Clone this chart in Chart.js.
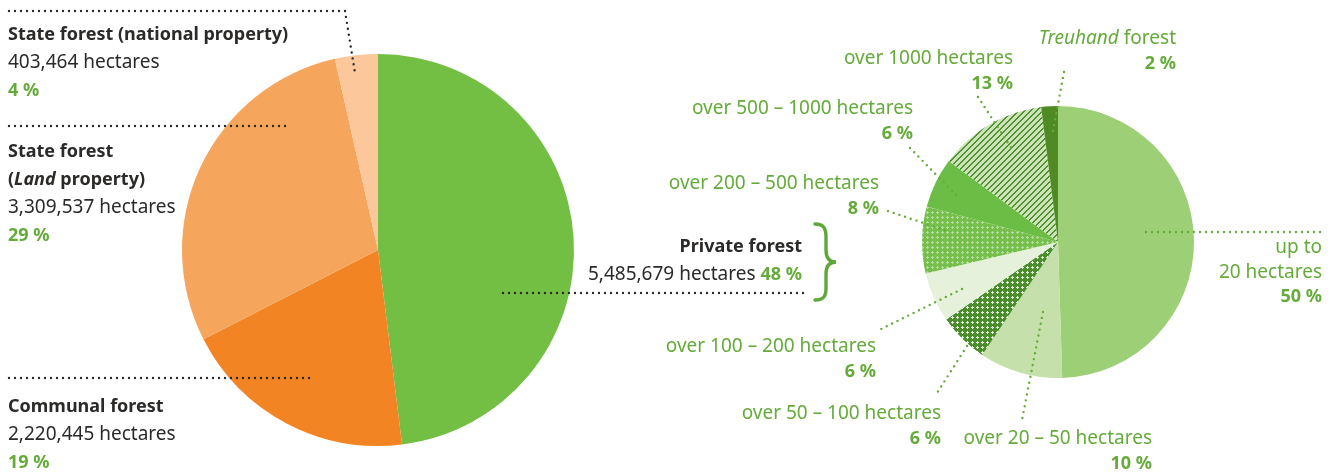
<!DOCTYPE html>
<html>
<head>
<meta charset="utf-8">
<script src="https://cdn.jsdelivr.net/npm/chart.js@4.4.1/dist/chart.umd.min.js"></script>
<style>
  html, body { margin: 0; padding: 0; background: #fff; }
  #wrap { position: relative; width: 1339px; height: 473px; overflow: hidden; font-family: "Noto Sans", sans-serif; font-size: 19px; }
  #wrap canvas { position: absolute; left: 0; top: 0; }
  .lbl { position: absolute; line-height: 28px; color: #2b2a29; white-space: nowrap; }
  .lbl b { font-weight: 700; font-size: 18px; }
  .pct { color: #65ab3a; font-weight: 700; font-size: 18px; }
  .g { position: absolute; line-height: 24.5px; color: #65ab3a; text-align: right; white-space: nowrap; }
  .g b { font-weight: 700; font-size: 18px; }
</style>
</head>
<body>
<div id="wrap">
  <canvas id="ownership" width="1339" height="473"></canvas>
  <canvas id="sizes" width="1339" height="473"></canvas>

  <!-- etiquetas del gráfico de propiedad -->
  <div class="lbl" style="left:8px; top:19px;"><b>State forest (national property)</b><br>403,464 hectares<br><span class="pct">4 %</span></div>
  <div class="lbl" style="left:8px; top:136px;"><b>State forest</b><br><b>(<i>Land</i> property)</b><br>3,309,537 hectares<br><span class="pct">29 %</span></div>
  <div class="lbl" style="left:8px; top:391px;"><b>Communal forest</b><br>2,220,445 hectares<br><span class="pct">19 %</span></div>
  <div class="lbl" style="right:537px; top:231px; text-align:right;"><b>Private forest</b><br>5,485,679 hectares <span class="pct">48 %</span></div>

  <!-- etiquetas del gráfico por tamaño -->
  <div class="g" style="right:326px; top:45px;">over 1000 hectares<br><b>13 %</b></div>
  <div class="g" style="right:163px; top:25px;"><i>Treuhand</i> forest<br><b>2 %</b></div>
  <div class="g" style="right:426px; top:95px;">over 500 – 1000 hectares<br><b>6 %</b></div>
  <div class="g" style="right:460px; top:170px;">over 200 – 500 hectares<br><b>8 %</b></div>
  <div class="g" style="right:17px; top:234px;">up to<br>20 hectares<br><b>50 %</b></div>
  <div class="g" style="right:463px; top:333px;">over 100 – 200 hectares<br><b>6 %</b></div>
  <div class="g" style="right:398px; top:400px;">over 50 – 100 hectares<br><b>6 %</b></div>
  <div class="g" style="right:187px; top:425px;">over 20 – 50 hectares<br><b>10 %</b></div>
</div>

<script>
// Propiedad del bosque (hectáreas)
const ownershipLabels = ['Private forest', 'Communal forest', 'State forest (Land property)', 'State forest (national property)'];
const ownershipHectares = [5485679, 2220445, 3309537, 403464];
const ownershipColors = ['#72bf44', '#f28423', '#f5a55c', '#fcc79b'];

// Bosque privado por tamaño de la propiedad (%)
const sizeLabels = ['up to 20 hectares', 'over 20 – 50 hectares', 'over 50 – 100 hectares', 'over 100 – 200 hectares',
  'over 200 – 500 hectares', 'over 500 – 1000 hectares', 'over 1000 hectares', 'Treuhand forest'];
const sizeShares = [50, 10, 6, 6, 8, 6, 13, 2];

// Patrones de relleno (cruces y rayas)
function crossPattern(bg, fg) {
  const c = document.createElement('canvas');
  c.width = 5; c.height = 5;
  const g = c.getContext('2d');
  g.fillStyle = bg; g.fillRect(0, 0, 5, 5);
  g.fillStyle = fg;
  g.fillRect(2, 1, 1, 3);
  g.fillRect(1, 2, 3, 1);
  return g.createPattern(c, 'repeat');
}

function stripePattern(bg, fg) {
  const c = document.createElement('canvas');
  c.width = 6; c.height = 6;
  const g = c.getContext('2d');
  g.fillStyle = bg; g.fillRect(0, 0, 6, 6);
  g.fillStyle = fg;
  for (let x = 0; x < 6; x++) {
    for (let y = 0; y < 6; y++) {
      if ((x + y) % 6 < 2) g.fillRect(x, y, 1, 1);
    }
  }
  return g.createPattern(c, 'repeat');
}

const sizeColors = [
  '#9dcf76',
  '#c6e0ab',
  crossPattern('#4b8d2d', '#e2efd8'),
  '#e6f1dc',
  crossPattern('#76bf4c', '#b4dc9a'),
  '#6cbd45',
  stripePattern('#cde4b8', '#4f8f30'),
  '#4f8a24'
];

// Líneas de puntos de las etiquetas
function dottedLine(ctx, pts, color) {
  ctx.save();
  ctx.strokeStyle = color;
  ctx.lineWidth = 2.4;
  ctx.lineCap = 'round';
  ctx.setLineDash([0, 6]);
  ctx.beginPath();
  ctx.moveTo(pts[0][0], pts[0][1]);
  for (let i = 1; i < pts.length; i++) ctx.lineTo(pts[i][0], pts[i][1]);
  ctx.stroke();
  ctx.restore();
}

const ownershipLeaders = {
  id: 'ownershipLeaders',
  afterDraw(chart) {
    const ctx = chart.ctx;
    const c = '#2b2a29';
    dottedLine(ctx, [[9, 11], [345, 11], [355, 73]], c);
    dottedLine(ctx, [[9, 126], [288, 126]], c);
    dottedLine(ctx, [[9, 378], [313, 378]], c);
    dottedLine(ctx, [[503, 293], [808, 293]], c);
  }
};

const sizeLeaders = {
  id: 'sizeLeaders',
  afterDraw(chart) {
    const ctx = chart.ctx;
    const c = '#65ab3a';
    dottedLine(ctx, [[1146, 232], [1323, 232]], c);
    dottedLine(ctx, [[1043, 312], [1022, 420]], c);
    dottedLine(ctx, [[967, 346], [937, 393]], c);
    dottedLine(ctx, [[962, 289], [877, 331]], c);
    dottedLine(ctx, [[888, 211], [950, 232]], c);
    dottedLine(ctx, [[910, 148], [957, 196]], c);
    dottedLine(ctx, [[978, 97], [1014, 152]], c);
    dottedLine(ctx, [[1064, 72], [1052, 136]], c);

    // llave que une "Private forest" con el segundo gráfico
    ctx.save();
    ctx.strokeStyle = '#5ea83a';
    ctx.lineWidth = 3.4;
    ctx.lineCap = 'round';
    ctx.beginPath();
    ctx.moveTo(815, 224);
    ctx.bezierCurveTo(824, 224, 826, 229, 826, 237);
    ctx.lineTo(826, 250);
    ctx.bezierCurveTo(826, 258, 829, 262, 836, 262);
    ctx.bezierCurveTo(829, 262, 826, 266, 826, 274);
    ctx.lineTo(826, 288);
    ctx.bezierCurveTo(826, 296, 824, 300, 815, 300);
    ctx.stroke();
    ctx.restore();
  }
};

const common = {
  responsive: false,
  animation: false,
  events: [],
  plugins: { legend: { display: false }, tooltip: { enabled: false } }
};

new Chart(document.getElementById('ownership'), {
  type: 'pie',
  data: {
    labels: ownershipLabels,
    datasets: [{ data: ownershipHectares, backgroundColor: ownershipColors, borderWidth: 0, hoverOffset: 0 }]
  },
  options: { ...common, layout: { padding: { left: 182, right: 765, top: 54, bottom: 27 } } },
  plugins: [ownershipLeaders]
});

new Chart(document.getElementById('sizes'), {
  type: 'pie',
  data: {
    labels: sizeLabels,
    datasets: [{ data: sizeShares, backgroundColor: sizeColors, borderWidth: 0, hoverOffset: 0 }]
  },
  options: { ...common, layout: { padding: { left: 922, right: 145, top: 106, bottom: 95 } } },
  plugins: [sizeLeaders]
});
</script>
</body>
</html>
